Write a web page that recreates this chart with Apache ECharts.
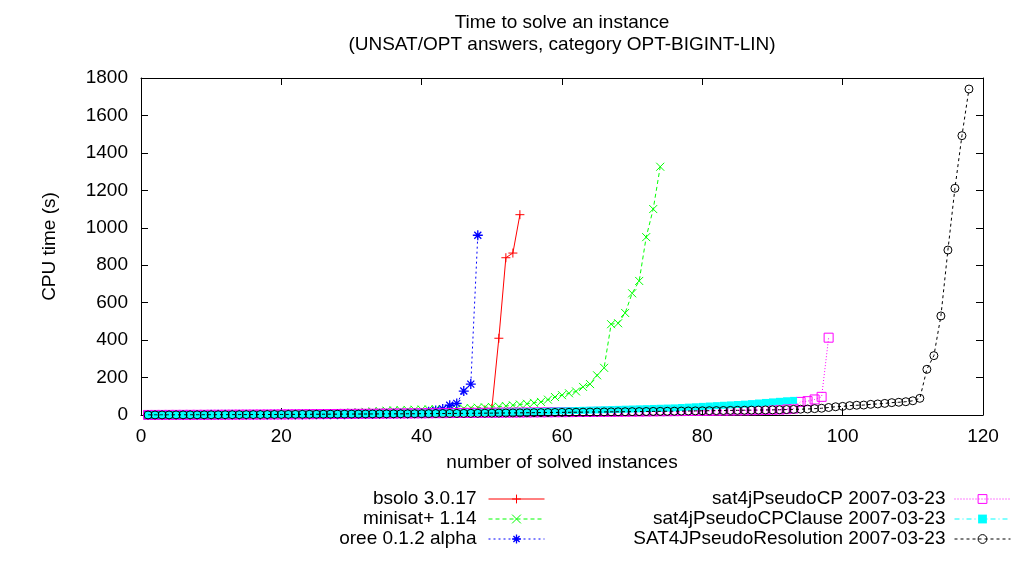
<!DOCTYPE html>
<html>
<head>
<meta charset="utf-8">
<script src="https://cdn.jsdelivr.net/npm/echarts@6/dist/echarts.min.js"></script>
<style>html,body{margin:0;padding:0;background:#fff;}#c{width:1015px;height:566px;}</style>
</head>
<body>
<div id="c"></div>
<script>
// ---- data (x = number of solved instances = index + 1) ----
const seriesNames = ['bsolo 3.0.17', 'minisat+ 1.14', 'oree 0.1.2 alpha',
  'sat4jPseudoCP 2007-03-23', 'sat4jPseudoCPClause 2007-03-23', 'SAT4JPseudoResolution 2007-03-23'];

const bsolo = [0.1,0.1,0.1,0.2,0.2,0.2,0.3,0.3,0.4,0.4,
  0.5,0.5,0.6,0.7,0.8,0.9,1.0,1.1,1.2,1.4,
  1.5,1.7,1.9,2.1,2.3,2.6,2.9,3.2,3.5,3.9,
  4.3,4.8,5.3,5.9,6.5,7.2,8.0,8.9,9.8,11,
  12,13,14,15,16,18,20,23,27,35,
  410,840,865,1070];

const minisat = [0.2,0.3,0.4,0.5,0.6,0.7,0.8,0.9,1.0,1.2,
  1.4,1.6,1.8,2.0,2.3,2.6,3.0,3.4,3.8,4.3,
  4.8,5.4,6.0,6.7,7.5,8.4,9.4,10.5,11.7,13,
  15,17,19,21,23,25,26,27,28,29,
  30,31,32,33,34,35,37,39,41,43,
  45,48,52,56,60,65,70,82,96,106,
  116,126,150,165,212,252,485,490,545,650,
  716,950,1100,1326];

const oree = [0.1,0.1,0.2,0.2,0.3,0.3,0.4,0.5,0.6,0.7,
  0.8,0.9,1.0,1.2,1.4,1.6,1.8,2.0,2.3,2.6,
  2.9,3.1,3.3,3.5,3.7,3.9,4.1,4.3,4.5,4.7,
  5,5.5,6,6.5,7,7.5,8,8.5,9,10,
  18,24,32,52,62,128,165,960];

const sat4jCP = [0.3,0.4,0.5,0.6,0.7,0.8,0.9,1.0,1.1,1.2,
  1.3,1.5,1.7,1.9,2.1,2.3,2.5,2.7,2.9,3.1,
  3.4,3.7,4.0,4.3,4.6,4.9,5.2,5.5,5.8,6.1,
  6.4,6.7,7.0,7.3,7.6,7.9,8.2,8.5,8.8,9.1,
  9.4,9.7,10,10.3,10.6,10.9,11.2,11.5,11.8,12.1,
  12.4,12.7,13,13.3,13.6,13.9,14.2,14.5,14.8,15.1,
  15.4,15.7,16,16.3,16.6,16.9,17.2,17.5,17.8,18.1,
  18.5,18.9,19.3,19.7,20.1,20.5,20.9,21.3,21.7,22.1,
  22.5,23,23.5,24,24.5,25,25.5,26,27,28,
  29,31,34,70,74,83,97,413];

const sat4jCPClause = [0.3,0.4,0.5,0.6,0.7,0.8,0.9,1.0,1.1,1.2,
  1.4,1.6,1.8,2.0,2.2,2.4,2.6,2.8,3.0,3.2,
  3.5,3.8,4.1,4.4,4.7,5.0,5.3,5.6,5.9,6.2,
  6.5,6.8,7.1,7.4,7.7,8.0,8.3,8.6,8.9,9.2,
  9.6,10,10.5,11,11.5,12,12.5,13,13.5,14,
  14.5,15,15.5,16,17,18,19,20,21,22,
  23,24,25,26,27,28,29,30,31,32,
  33,34,35,36,37,38,40,42,44,46,
  48,50,52,54,56,58,61,64,67,70,
  73,76,78];

const sat4jRes = [0.2,0.3,0.4,0.5,0.6,0.7,0.8,0.9,1.0,1.1,
  1.2,1.4,1.6,1.8,2.0,2.2,2.4,2.6,2.8,3.0,
  3.2,3.4,3.6,3.8,4.0,4.2,4.4,4.6,4.8,5.0,
  5.2,5.4,5.6,5.8,6.0,6.2,6.4,6.6,6.8,7.0,
  7.3,7.6,7.9,8.2,8.5,8.8,9.1,9.4,9.7,10,
  10.4,10.8,11.2,11.6,12,12.4,12.8,13.2,13.6,14,
  14.4,14.8,15.2,15.6,16,16.4,16.8,17.2,17.6,18,
  18.4,18.8,19.2,19.6,20,20.5,21,21.5,22,22.5,
  23,23.5,24,24.5,25,25.5,26,26.5,27,27.5,
  28,29,30,31,32,34,36,40,44,46,
  50,52,53,57,59,62,66,68,71,76,
  89,244,317,529,881,1211,1492,1741];

const xTicks = [0, 20, 40, 60, 80, 100, 120];
const yTicks = [0, 200, 400, 600, 800, 1000, 1200, 1400, 1600, 1800];

// ---- presentation ----
const FONT = '"Liberation Sans", Arial, sans-serif';
const FS = 19;
const styles = [
  { color: '#ff0000', symbol: 'path://M0,5L10,5M5,0L5,10', size: 9, fill: '#ff0000', border: 1, dash: 'solid' },
  { color: '#00ff00', symbol: 'path://M0,0L10,10M0,10L10,0', size: 8, fill: '#00ff00', border: 1, dash: [4, 3] },
  { color: '#0000ff', symbol: 'path://M0,5L10,5M5,0L5,10M1.5,1.5L8.5,8.5M1.5,8.5L8.5,1.5', size: 10, fill: '#0000ff', border: 1.3, dash: [2, 3] },
  { color: '#ff00ff', symbol: 'rect', size: 9, fill: 'none', border: 1, dash: [1, 2] },
  { color: '#00ffff', symbol: 'rect', size: 7, fill: '#00ffff', border: 0, dash: [5, 3, 1, 3] },
  { color: '#000000', symbol: 'circle', size: 8, fill: 'none', border: 1, dash: [3, 3] }
];
const allData = [bsolo, minisat, oree, sat4jCP, sat4jCPClause, sat4jRes];

const series = allData.map((arr, i) => {
  const s = styles[i];
  return {
    name: seriesNames[i],
    type: 'line',
    xAxisIndex: 0,
    yAxisIndex: 0,
    data: arr.map((v, k) => [k + 1, v]),
    symbol: s.symbol,
    symbolSize: s.size,
    showSymbol: true,
    showAllSymbol: true,
    itemStyle: { color: s.fill, borderColor: s.color, borderWidth: s.border },
    lineStyle: { color: s.color, width: 1, type: s.dash },
    emphasis: { disabled: true },
    animation: false,
    z: 2 + i
  };
});

function legendItems(idxs) {
  return idxs.map(i => {
    const s = styles[i];
    return {
      name: seriesNames[i],
      itemStyle: { color: s.fill, borderColor: s.color, borderWidth: s.border },
      lineStyle: { color: s.color, width: 1, type: s.dash }
    };
  });
}
function legendOpt(right, idxs, pad) {
  return {
    orient: 'vertical', align: 'right', selectedMode: false, padding: 0, itemGap: 0,
    itemWidth: 56, itemHeight: 11, right: right, top: 489,
    textStyle: { fontFamily: FONT, fontSize: FS, color: '#000', lineHeight: 20, padding: [0, pad, 0, 0] },
    data: legendItems(idxs)
  };
}
function tick() {
  return { show: true, inside: true, length: 7, lineStyle: { color: '#000', width: 1 } };
}
function aline() {
  return { show: true, onZero: false, lineStyle: { color: '#000', width: 1 } };
}

const chart = echarts.init(document.getElementById('c'), null, { renderer: 'canvas' });
chart.setOption({
  animation: false,
  backgroundColor: '#ffffff',
  textStyle: { fontFamily: FONT },
  title: {
    text: 'Time to solve an instance\n(UNSAT/OPT answers, category OPT-BIGINT-LIN)',
    left: 562, top: 12, textAlign: 'center', padding: 0,
    textStyle: { fontFamily: FONT, fontSize: FS, fontWeight: 'normal', color: '#000', lineHeight: 22 }
  },
  grid: { left: 141, right: 32, top: 78, bottom: 151, containLabel: false, outerBoundsMode: 'none' },
  legend: [legendOpt(470, [0, 1, 2], 7), legendOpt(4, [3, 4, 5], 4)],
  xAxis: [
    {
      type: 'value', min: xTicks[0], max: xTicks[xTicks.length - 1], interval: xTicks[1] - xTicks[0],
      position: 'bottom',
      name: 'number of solved instances', nameLocation: 'middle', nameGap: 38,
      nameTextStyle: { fontFamily: FONT, fontSize: FS, color: '#000' },
      axisLine: aline(), axisTick: tick(),
      axisLabel: { fontFamily: FONT, fontSize: FS, color: '#000', margin: 12, formatter: v => String(v) },
      splitLine: { show: false }
    },
    {
      type: 'value', min: xTicks[0], max: xTicks[xTicks.length - 1], interval: xTicks[1] - xTicks[0],
      position: 'top',
      axisLine: aline(), axisTick: tick(),
      axisLabel: { show: false }, splitLine: { show: false }
    }
  ],
  yAxis: [
    {
      type: 'value', min: yTicks[0], max: yTicks[yTicks.length - 1], interval: yTicks[1] - yTicks[0],
      position: 'left',
      name: 'CPU time (s)', nameLocation: 'middle', nameGap: 82,
      nameTextStyle: { fontFamily: FONT, fontSize: FS, color: '#000' },
      axisLine: aline(), axisTick: tick(),
      axisLabel: { fontFamily: FONT, fontSize: FS, color: '#000', margin: 13, formatter: v => String(v) },
      splitLine: { show: false }
    },
    {
      type: 'value', min: yTicks[0], max: yTicks[yTicks.length - 1], interval: yTicks[1] - yTicks[0],
      position: 'right',
      axisLine: aline(), axisTick: tick(),
      axisLabel: { show: false }, splitLine: { show: false }
    }
  ],
  series: series
});
</script>
</body>
</html>
